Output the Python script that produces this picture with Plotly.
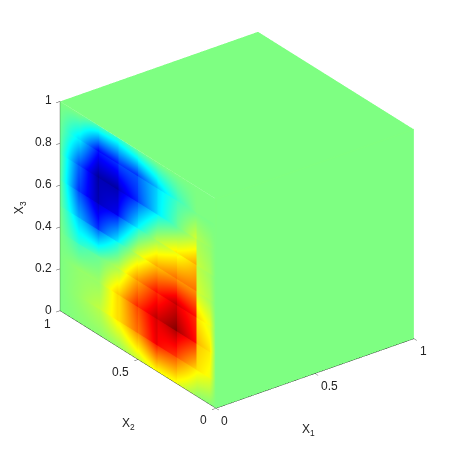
import plotly.graph_objects as go

# element boundaries on the x1=0 face, doubled because the field jumps across them
x2_nodes = [0, 0.04, 0.125, 0.125, 0.25, 0.25, 0.375, 0.375, 0.5, 0.5,
            0.625, 0.625, 0.75, 0.75, 0.875, 0.875, 1]
x3_nodes = [0, 0.125, 0.125, 0.25, 0.25, 0.375, 0.375, 0.5, 0.5,
            0.625, 0.625, 0.75, 0.75, 0.875, 0.875, 1]

# field on x1=0, one row per x3 node, one column per x2 node
u_face = [
    [0, 0.02, 0.04, 0.05, 0.20, 0.22, 0.23, 0.25, 0.14, 0.15, 0.05, 0.05, 0.03, 0.03, 0.02, 0.02, 0],
    [0, 0.20, 0.27, 0.27, 0.53, 0.57, 0.66, 0.71, 0.44, 0.47, 0.26, 0.28, 0.10, 0.11, 0.05, 0.05, 0],
    [0, 0.22, 0.30, 0.31, 0.59, 0.63, 0.74, 0.80, 0.50, 0.54, 0.30, 0.32, 0.12, 0.13, 0.05, 0.05, 0],
    [0, 0.28, 0.36, 0.64, 0.84, 0.90, 0.78, 0.84, 0.58, 0.62, 0.30, 0.33, 0.05, 0.05, 0.04, 0.04, 0],
    [0, 0.30, 0.40, 0.72, 0.93, 1.00, 0.84, 0.90, 0.65, 0.70, 0.34, 0.37, 0.06, 0.06, 0.05, 0.05, 0],
    [0, 0.20, 0.30, 0.66, 0.78, 0.84, 0.64, 0.69, 0.41, 0.44, 0.09, 0.10, -0.04, -0.04, -0.12, -0.13, 0],
    [0, 0.22, 0.34, 0.72, 0.84, 0.90, 0.70, 0.75, 0.46, 0.49, 0.12, 0.13, -0.06, -0.06, -0.16, -0.17, 0],
    [0, 0.08, 0.15, 0.47, 0.44, 0.48, 0.36, 0.38, 0.12, 0.13, -0.17, -0.19, -0.52, -0.55, -0.35, -0.37, -0.02],
    [0, 0.10, 0.17, 0.53, 0.50, 0.54, 0.41, 0.44, 0.18, 0.19, -0.23, -0.25, -0.61, -0.65, -0.40, -0.43, -0.03],
    [0, 0.06, 0.12, 0.37, 0.20, 0.22, 0.07, 0.08, -0.17, -0.19, -0.62, -0.68, -0.82, -0.87, -0.58, -0.62, -0.04],
    [0, 0.08, 0.14, 0.43, 0.27, 0.29, 0.11, 0.12, -0.23, -0.25, -0.70, -0.76, -0.88, -0.93, -0.63, -0.68, -0.05],
    [0, 0.04, 0.08, 0.13, -0.05, -0.06, -0.22, -0.24, -0.54, -0.58, -0.84, -0.91, -0.91, -0.97, -0.54, -0.58, -0.04],
    [0, 0.05, 0.10, 0.17, -0.04, -0.05, -0.29, -0.31, -0.62, -0.66, -0.88, -0.96, -0.95, -1.00, -0.59, -0.63, -0.05],
    [0, -0.01, -0.01, -0.02, -0.11, -0.12, -0.30, -0.33, -0.54, -0.58, -0.60, -0.65, -0.69, -0.73, -0.27, -0.29, -0.03],
    [0, 0, 0, 0, -0.14, -0.15, -0.36, -0.39, -0.61, -0.66, -0.65, -0.71, -0.74, -0.78, -0.30, -0.32, -0.03],
    [0, 0, 0, 0, 0, 0, 0, 0, -0.04, -0.05, -0.14, -0.15, -0.09, -0.10, 0, 0, 0],
]

x1_ticks = [0, 0.5, 1]
x1_labels = ["0", "0.5", "1"]
x2_ticks = [0, 0.5, 1]
x2_labels = ["0", "0.5", "1"]
x3_ticks = [0, 0.2, 0.4, 0.6, 0.8, 1]
x3_labels = ["0", "0.2", "0.4", "0.6", "0.8", "1"]

colorscale = [
    [0, "rgb(0,0,143)"], [0.125, "rgb(0,0,255)"], [0.375, "rgb(0,255,255)"],
    [0.5, "rgb(128,255,128)"], [0.625, "rgb(255,255,0)"], [0.875, "rgb(255,0,0)"],
    [1, "rgb(128,0,0)"],
]
text_font = dict(family="Liberation Sans", size=12, color="#222")


def face(x, y, z, c):
    return go.Surface(
        x=x, y=y, z=z, surfacecolor=c,
        colorscale=colorscale, cmin=-1, cmax=1, showscale=False,
        lighting=dict(ambient=1, diffuse=0, specular=0, fresnel=0),
        hoverinfo="skip",
    )


def label(x, y, z, text, dx, dy, angle=0):
    return dict(x=x, y=y, z=z, text=text, showarrow=False, font=text_font,
                xshift=dx, yshift=-dy, textangle=angle)


fig = go.Figure()

# x1 = 0 face
fig.add_trace(face(
    [[0] * len(x2_nodes) for _ in x3_nodes],
    [list(x2_nodes) for _ in x3_nodes],
    [[v] * len(x2_nodes) for v in x3_nodes],
    u_face,
))
# x2 = 0 face
fig.add_trace(face([[0, 1], [0, 1]], [[0, 0], [0, 0]], [[0, 0], [1, 1]], [[0, 0], [0, 0]]))
# x3 = 1 face
fig.add_trace(face([[0, 1], [0, 1]], [[0, 0], [1, 1]], [[1, 1], [1, 1]], [[0, 0], [0, 0]]))
# cover the hairline seams where the flat green faces meet
fig.add_trace(go.Scatter3d(
    x=[1, 0, 0], y=[0, 0, 0], z=[1, 1, 0], mode="lines",
    line=dict(color="rgb(128,255,128)", width=3), hoverinfo="skip",
))

axis_common = dict(
    showbackground=False, showgrid=False, zeroline=False, showspikes=False,
    showline=True, linecolor="black", linewidth=1,
    ticks="outside", ticklen=5, tickcolor="#444", tickwidth=1,
    showticklabels=False, title=dict(text=""),
    autorange=False, range=[0, 1],
)

annotations = []
for t, s, d in zip(x1_ticks, x1_labels, [(8, 13), (14.5, 13), (10, 12)]):
    annotations.append(label(t, 0, 0, s, d[0], d[1]))
for t, s, d in zip(x2_ticks, x2_labels, [(-13, 12), (-17.5, 12.5), (-13, 13)]):
    annotations.append(label(0, t, 0, s, d[0], d[1]))
for t, s in zip(x3_ticks, x3_labels):
    dx = -12 if len(s) == 1 else -17
    annotations.append(label(0, 1, t, s, dx, -1))
annotations.append(label(0.5, 0, 0, "X<sub>1</sub>", -6.5, 57))
annotations.append(label(0, 0.5, 0, "X<sub>2</sub>", -10, 65))
annotations.append(label(0, 1, 0.5, "X<sub>3</sub>", -40, 2, -90))

fig.update_layout(
    width=458, height=458,
    margin=dict(l=0, r=0, t=0, b=0),
    paper_bgcolor="white",
    showlegend=False,
    scene=dict(
        domain=dict(x=[0, 1], y=[0, 1]),
        aspectmode="manual",
        aspectratio=dict(x=1.08, y=1.135, z=1.035),
        camera=dict(
            projection=dict(type="orthographic"),
            eye=dict(x=-1.051, y=-1.402, z=0.847),
            up=dict(x=0, y=0, z=1),
            center=dict(x=0, y=0, z=-0.084),
        ),
        xaxis=dict(axis_common, tickvals=x1_ticks),
        yaxis=dict(axis_common, tickvals=x2_ticks),
        zaxis=dict(axis_common, tickvals=x3_ticks),
        annotations=annotations,
    ),
)

fig.write_html("out.html")
